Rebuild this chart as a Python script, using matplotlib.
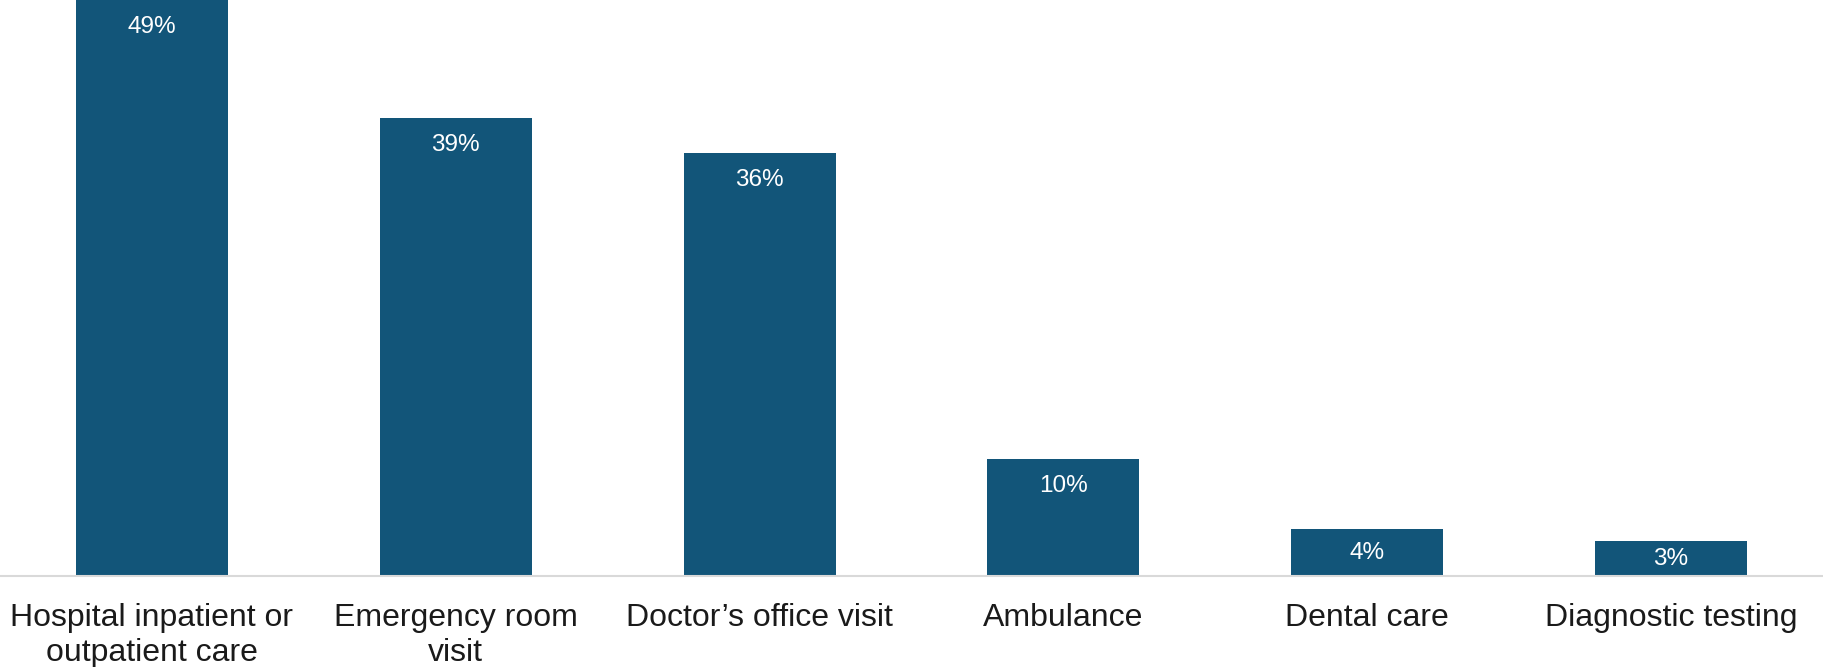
import matplotlib.pyplot as plt

# Liberation Sans stands in for Arial
plt.rcParams['font.family'] = ['Liberation Sans', 'DejaVu Sans']

categories = ['Hospital inpatient or\noutpatient care', 'Emergency room\nvisit',
              'Doctor\u2019s office visit', 'Ambulance', 'Dental care', 'Diagnostic testing']
values = [49, 39, 36, 10, 4, 3]
value_labels = ['49%', '39%', '36%', '10%', '4%', '3%']

bar_color = '#125579'

fig = plt.figure(figsize=(18.23, 6.67), dpi=100)
ax = fig.add_axes([0, 0.136, 1, 0.864])

x = range(len(categories))
bars = ax.bar(x, values, width=0.5, color=bar_color)

# percentage labels inside the top of each bar; short bars get them centred
label_gap = 2.3
for b, lab in zip(bars, value_labels):
    h = b.get_height()
    ax.text(b.get_x() + b.get_width() / 2, max(h - label_gap, h / 2), lab,
            ha='center', va='center', color='white', fontsize=17.5)

ax.set_xlim(-0.5, len(categories) - 0.5)
ax.set_ylim(0, 49)
ax.set_xticks(list(x))
ax.set_xticklabels(categories, fontsize=23, color='#1a1a1a', linespacing=1.25)
ax.tick_params(axis='x', length=0, pad=19)
ax.set_yticks([])

for s in ['top', 'right', 'left']:
    ax.spines[s].set_visible(False)
ax.spines['bottom'].set_color('#d9d9d9')
ax.spines['bottom'].set_linewidth(1.5)

plt.savefig('out.png', dpi=100)
plt.close()
